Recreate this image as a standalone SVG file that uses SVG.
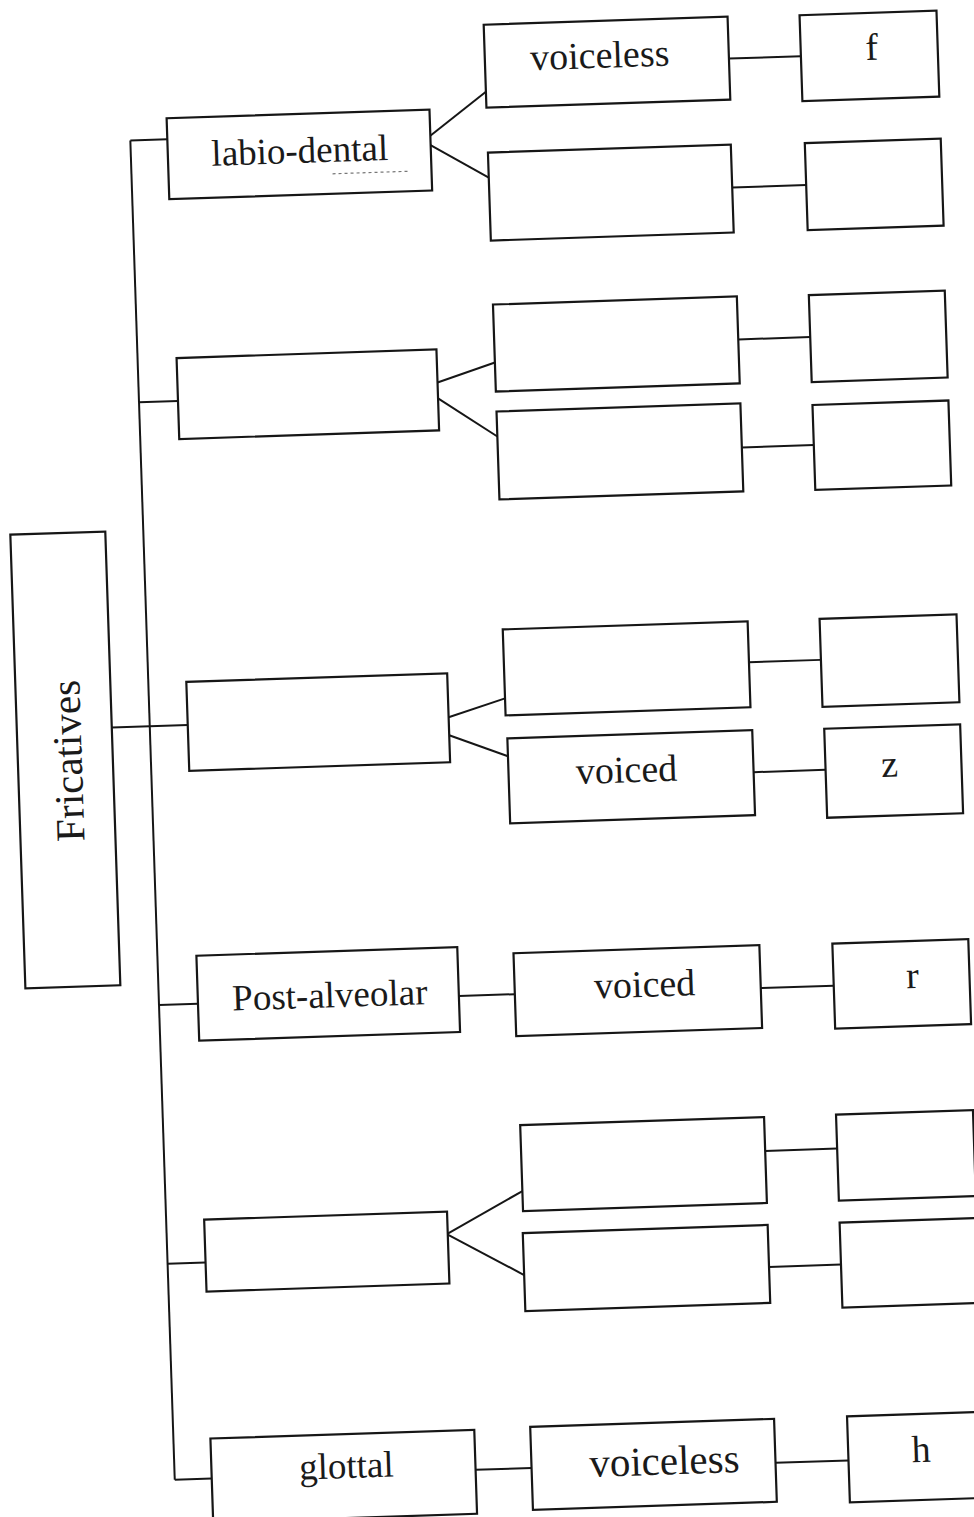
<svg xmlns="http://www.w3.org/2000/svg" width="974" height="1517" viewBox="0 0 974 1517">
  <style>
    .box { fill: #ffffff; stroke: #161616; stroke-width: 2.2; }
    .wire { fill: none; stroke: #161616; stroke-width: 2; }
    .lbl { font-family: "Liberation Serif", "Times New Roman", serif; font-size: 38px; fill: #1a1a1a; text-anchor: middle; }
    .dots { fill: none; stroke: #777777; stroke-width: 1.2; stroke-dasharray: 3 3; }
  </style>
  <rect x="0" y="0" width="974" height="1517" fill="#ffffff"/>
  <!-- whole sheet sits slightly tilted -->
  <g transform="rotate(-1.9 487 758)">
    <g id="connectors">
      <path class="wire" d="M151 129 V1469"/>
      <path class="wire" d="M151 129 H188"/>
      <path class="wire" d="M151 391 H190"/>
      <path class="wire" d="M113 715 H189"/>
      <path class="wire" d="M151 994 H190"/>
      <path class="wire" d="M151 1253 H189"/>
      <path class="wire" d="M151 1469 H188"/>
      <!-- labio-dental branch -->
      <path class="wire" d="M450 135 L508 92"/>
      <path class="wire" d="M450 143 L508 178"/>
      <path class="wire" d="M752 67 H824"/>
      <path class="wire" d="M751 196 H825"/>
      <!-- second branch -->
      <path class="wire" d="M450 381 L508 363"/>
      <path class="wire" d="M450 397 L508 437"/>
      <path class="wire" d="M752 348 H824"/>
      <path class="wire" d="M752 456 H824"/>
      <!-- third branch -->
      <path class="wire" d="M450 716 L507 699"/>
      <path class="wire" d="M450 734 L508 757"/>
      <path class="wire" d="M752 671 H824"/>
      <path class="wire" d="M753 781 H825"/>
      <!-- post-alveolar -->
      <path class="wire" d="M451 995 H507"/>
      <path class="wire" d="M753 997 H826"/>
      <!-- fifth branch -->
      <path class="wire" d="M432 1232 L508 1192"/>
      <path class="wire" d="M432 1233 L507 1276"/>
      <path class="wire" d="M752 1160 H824"/>
      <path class="wire" d="M752 1276 H824"/>
      <!-- glottal -->
      <path class="wire" d="M452 1469 H508"/>
      <path class="wire" d="M752 1472 H825"/>
    </g>

    <g id="fricatives">
      <rect class="box" x="18" y="519" width="95" height="454"/>
      <text class="lbl" x="82" y="747" font-size="41" transform="rotate(-90 82 747)" style="font-size:41px">Fricatives</text>
    </g>

    <g id="labio-dental">
      <rect class="box" x="188" y="108" width="263" height="81"/>
      <text class="lbl" x="320" y="157" style="font-size:37px">labio-dental</text>
      <path class="dots" d="M352 169 H427"/>
    </g>
    <g id="labio-voiceless">
      <rect class="box" x="508" y="25" width="244" height="83"/>
      <text class="lbl" x="623" y="72">voiceless</text>
    </g>
    <g id="labio-voiceless-sound">
      <rect class="box" x="824" y="26" width="137" height="86"/>
      <text class="lbl" x="895" y="73">f</text>
    </g>
    <g id="labio-voiced">
      <rect class="box" x="508" y="153" width="243" height="88"/>
    </g>
    <g id="labio-voiced-sound">
      <rect class="box" x="825" y="154" width="136" height="87"/>
    </g>

    <g id="place-2">
      <rect class="box" x="190" y="348" width="260" height="81"/>
    </g>
    <g id="place-2-upper">
      <rect class="box" x="508" y="305" width="244" height="87"/>
    </g>
    <g id="place-2-upper-sound">
      <rect class="box" x="824" y="306" width="136" height="87"/>
    </g>
    <g id="place-2-lower">
      <rect class="box" x="508" y="412" width="244" height="88"/>
    </g>
    <g id="place-2-lower-sound">
      <rect class="box" x="824" y="416" width="136" height="85"/>
    </g>

    <g id="place-3">
      <rect class="box" x="189" y="672" width="261" height="89"/>
    </g>
    <g id="place-3-upper">
      <rect class="box" x="507" y="630" width="245" height="86"/>
    </g>
    <g id="place-3-upper-sound">
      <rect class="box" x="824" y="630" width="137" height="88"/>
    </g>
    <g id="place-3-voiced">
      <rect class="box" x="508" y="739" width="245" height="85"/>
      <text class="lbl" x="626" y="787">voiced</text>
    </g>
    <g id="place-3-voiced-sound">
      <rect class="box" x="825" y="740" width="136" height="89"/>
      <text class="lbl" x="889" y="790">z</text>
    </g>

    <g id="post-alveolar">
      <rect class="box" x="190" y="946" width="261" height="85"/>
      <text class="lbl" x="322" y="1002" style="font-size:37px">Post-alveolar</text>
    </g>
    <g id="post-alveolar-voiced">
      <rect class="box" x="507" y="954" width="246" height="83"/>
      <text class="lbl" x="637" y="1002">voiced</text>
    </g>
    <g id="post-alveolar-sound">
      <rect class="box" x="826" y="955" width="136" height="85"/>
      <text class="lbl" x="905" y="1002">r</text>
    </g>

    <g id="place-5">
      <rect class="box" x="189" y="1210" width="243" height="72"/>
    </g>
    <g id="place-5-upper">
      <rect class="box" x="508" y="1126" width="244" height="86"/>
    </g>
    <g id="place-5-upper-sound">
      <rect class="box" x="824" y="1126" width="137" height="86"/>
    </g>
    <g id="place-5-lower">
      <rect class="box" x="507" y="1234" width="245" height="78"/>
    </g>
    <g id="place-5-lower-sound">
      <rect class="box" x="824" y="1234" width="137" height="85"/>
    </g>

    <g id="glottal">
      <rect class="box" x="188" y="1429" width="264" height="84"/>
      <text class="lbl" x="323" y="1473" style="font-size:37px">glottal</text>
    </g>
    <g id="glottal-voiceless">
      <rect class="box" x="508" y="1428" width="244" height="83"/>
      <text class="lbl" x="641" y="1480" style="font-size:41px">voiceless</text>
    </g>
    <g id="glottal-sound">
      <rect class="box" x="825" y="1428" width="136" height="86"/>
      <text class="lbl" x="898" y="1476">h</text>
    </g>
  </g>
</svg>
